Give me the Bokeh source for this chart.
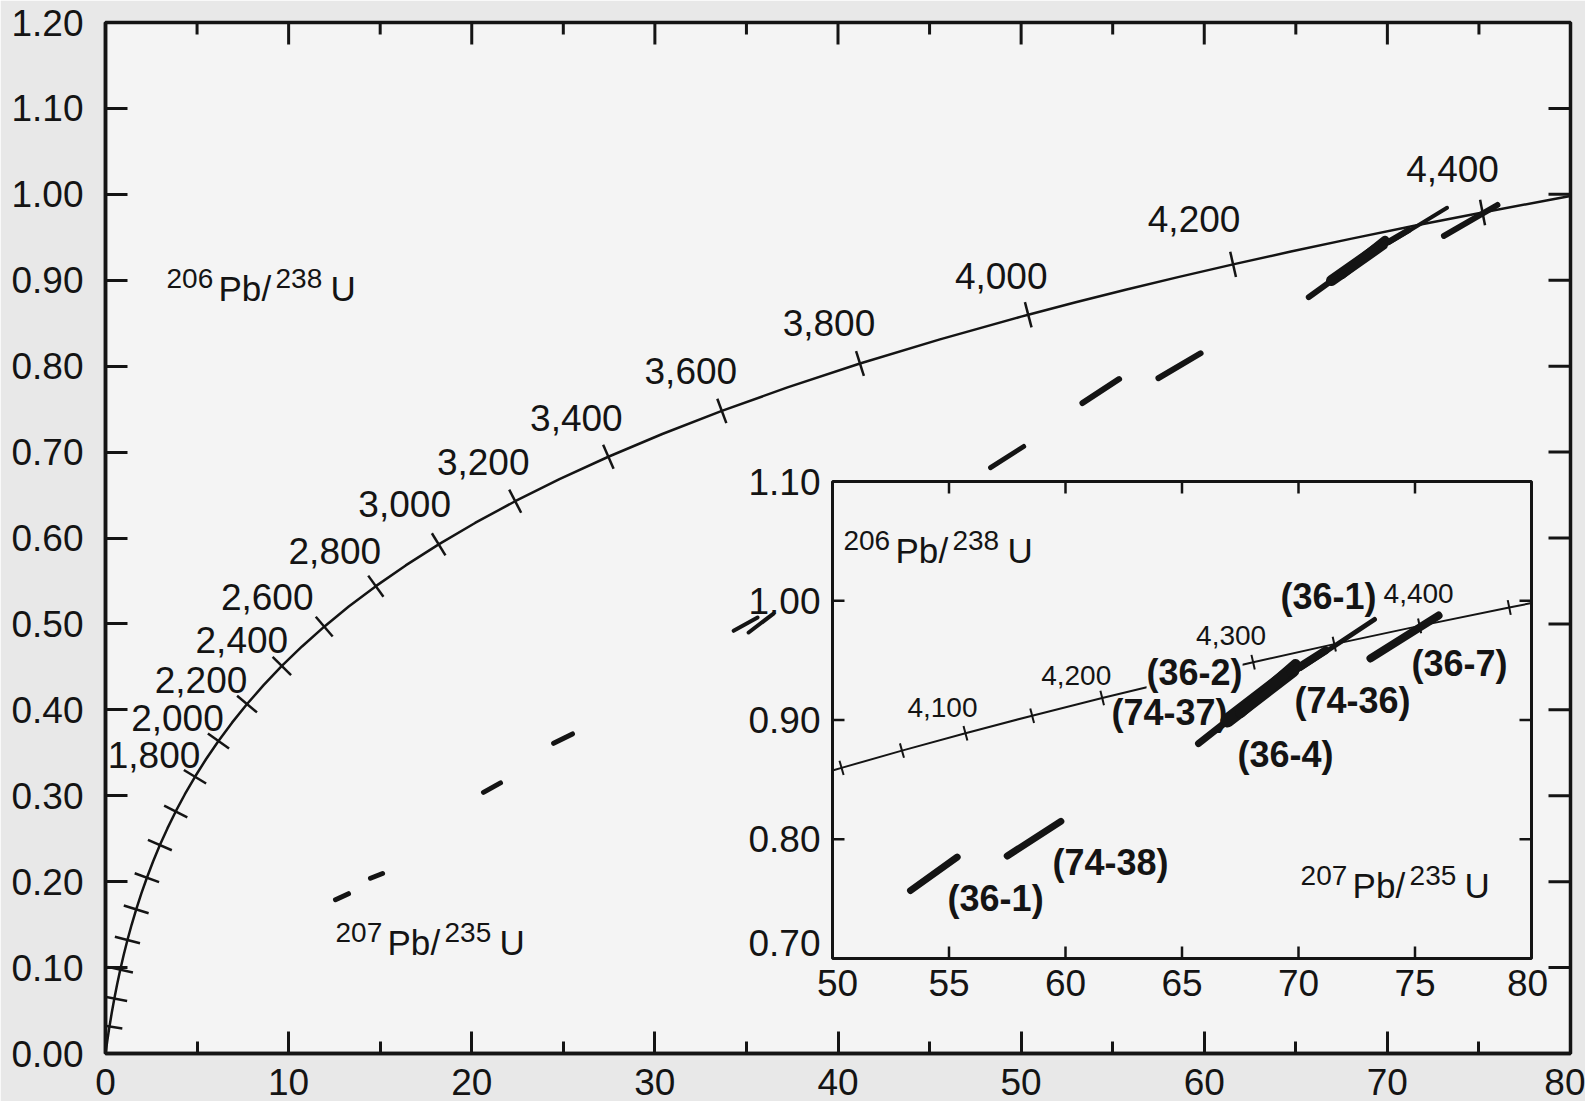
import numpy as np
from bokeh.plotting import figure
from bokeh.models import (Range1d, FixedTicker, NumeralTickFormatter, Label)
from bokeh.core.properties import value
from bokeh.embed import file_html
from bokeh.resources import INLINE

# ------------------------------------------------------------------ data
# Concordia curve (age in Ma, 207Pb/235U, 206Pb/238U)
concordia_age_ma = [0, 100, 200, 300, 400, 500, 600, 700, 800, 900, 1000,
                    1100, 1200, 1300, 1400, 1500, 1600, 1700, 1800, 1900, 2000,
                    2100, 2200, 2300, 2400, 2500, 2600, 2700, 2800, 2900, 3000,
                    3100, 3200, 3300, 3400, 3500, 3600, 3700, 3800, 3900, 3992,
                    4000, 4050, 4100, 4150, 4200, 4250, 4300, 4350, 4400, 4450, 4462]
concordia_pb207_u235 = [0.0, 0.1035, 0.2177, 0.3437, 0.4828, 0.6363, 0.8056, 0.9925,
                        1.1987, 1.4263, 1.6774, 1.9545, 2.2603, 2.5977, 2.9701, 3.3810,
                        3.8344, 4.3348, 4.8869, 5.4962, 6.1685, 6.9104, 7.7291, 8.6326,
                        9.6296, 10.730, 11.944, 13.283, 14.762, 16.393, 18.193, 20.180,
                        22.372, 24.790, 27.460, 30.405, 33.656, 37.243, 41.200, 45.568,
                        50.000, 50.388, 52.981, 55.706, 58.569, 61.575, 64.734, 68.052,
                        71.536, 75.198, 79.044, 80.000]
concordia_pb206_u238 = [0.0, 0.01563, 0.03151, 0.04764, 0.06402, 0.08065, 0.09754, 0.11470,
                        0.13213, 0.14983, 0.16780, 0.18606, 0.20460, 0.22343, 0.24256, 0.26199,
                        0.28172, 0.30175, 0.32211, 0.34277, 0.36377, 0.38509, 0.40674, 0.42873,
                        0.45107, 0.47375, 0.49679, 0.52019, 0.54396, 0.56810, 0.59261, 0.61751,
                        0.64280, 0.66848, 0.69456, 0.72106, 0.74796, 0.77529, 0.80304, 0.83123,
                        0.85764, 0.85986, 0.87434, 0.88893, 0.90364, 0.91846, 0.93340, 0.94846,
                        0.96363, 0.97892, 0.99433, 0.99807]

main_tick_ages = [200, 400, 600, 800, 1000, 1200, 1400, 1600, 1800, 2000, 2200, 2400,
                  2600, 2800, 3000, 3200, 3400, 3600, 3800, 4000, 4200, 4400]
main_label_ages = [1800, 2000, 2200, 2400, 2600, 2800, 3000, 3200, 3400, 3600,
                   3800, 4000, 4200, 4400]
main_label_text = ["1,800", "2,000", "2,200", "2,400", "2,600", "2,800", "3,000",
                   "3,200", "3,400", "3,600", "3,800", "4,000", "4,200", "4,400"]
inset_tick_ages = [4000, 4050, 4100, 4150, 4200, 4250, 4300, 4350, 4400, 4450]
inset_label_ages = [4100, 4200, 4300, 4400]
inset_label_text = ["4,100", "4,200", "4,300", "4,400"]

# Zircon analyses: elongated error ellipses, long axis from (x0, y0) to (x1, y1)
analysis_name = ["", "", "", "", "", "", "", "36-1", "74-38", "36-4", "74-37",
                 "36-2", "74-36", "36-1", "36-7"]
ell_x0 = [12.56, 14.47, 20.64, 24.47, 34.30, 35.12, 48.33, 53.35, 57.50, 65.71,
          66.95, 67.51, 69.66, 70.09, 73.09]
ell_y0 = [0.179, 0.204, 0.304, 0.361, 0.492, 0.490, 0.682, 0.757, 0.786, 0.8803,
          0.8996, 0.9063, 0.9398, 0.9432, 0.9516]
ell_x1 = [13.27, 15.13, 21.57, 25.50, 35.61, 36.48, 50.14, 55.35, 59.80, 69.96,
          69.74, 69.87, 71.16, 73.26, 76.01]
ell_y1 = [0.186, 0.2095, 0.315, 0.372, 0.5075, 0.512, 0.7065, 0.785, 0.815, 0.9457,
          0.9415, 0.9465, 0.9583, 0.9843, 0.9876]

# Sample tags in the inset
tag_text = ["(36-1)", "(74-38)", "(36-2)", "(74-37)", "(36-4)", "(74-36)", "(36-1)", "(36-7)"]

# Axes
x_major_ticks = [0, 10, 20, 30, 40, 50, 60, 70, 80]
x_minor_ticks = [5, 15, 25, 35, 45, 55, 65, 75]
y_major_ticks = [0.0, 0.1, 0.2, 0.3, 0.4, 0.5, 0.6, 0.7, 0.8, 0.9, 1.0, 1.1, 1.2]
inset_x_ticks = [50, 55, 60, 65, 70, 75, 80]
inset_x_labels = ["50", "55", "60", "65", "70", "75", "80"]
inset_y_ticks = [0.70, 0.80, 0.90, 1.00, 1.10]
inset_y_labels = ["0.70", "0.80", "0.90", "1.00", "1.10"]

# ------------------------------------------------------------------ layout / style
FONT = "Liberation Sans"
INK = "#141414"
BG = "#f4f4f4"
BORDER = "#e8e8e8"
W, H = 1585, 1101
FL, FR, FT, FB = 105, 15, 22, 48
FW, FH = W - FL - FR, H - FT - FB
X0, X1, Y0, Y1 = 0, 80, 0.0, 1.2
IX0, IX1, IY0, IY1 = 50, 80, 0.70, 1.10
IL, IR, IB, IT = 727, 1426, 95, 572      # inset box, px from main frame left / bottom

main_ell_width = [5, 5, 5, 5, 4, 4, 5, 6, 6, 6, 11, 9, 6, 4, 6]
inset_widths = [7, 7, 7, 14, 11, 8, 5, 8]
# label offsets (px) of text centres from their curve tick
main_lbl_dx = [-41, -41, -46, -40, -57, -41, -34, -32, -32, -31, -31, -27, -39, -30]
main_lbl_dy = [-22, -23, -24, -26, -30, -35, -40, -39, -39, -40, -41, -39, -45, -43]
inset_lbl_dx = [-23, -26, -22, -1]
inset_lbl_dy = [-26, -22, -27, -32]
tag_x = [57.00, 61.93, 65.54, 64.46, 69.44, 72.32, 71.29, 76.91]
tag_y = [0.7503, 0.7805, 0.9398, 0.9063, 0.8711, 0.9164, 1.0036, 0.9474]
tag_bg = [False, False, True, False, False, False, False, False]
inset_xlbl_dx = [5, 0, 0, 0, 0, 0, -4]
inset_ylbl_dy = [-16, 0, 0, 0, 0]

p = figure(width=W, height=H, x_range=Range1d(X0, X1), y_range=Range1d(Y0, Y1),
           output_backend="svg", toolbar_location=None, tools="",
           min_border_left=FL, min_border_right=FR, min_border_top=FT, min_border_bottom=FB,
           background_fill_color=BG, border_fill_color=BORDER,
           outline_line_color=INK, outline_line_width=3.5)
p.grid.visible = False

# inset ranges mapped onto the main frame
ixs = (IX1 - IX0) / (IR - IL)
iys = (IY1 - IY0) / (IT - IB)
p.extra_x_ranges = {"ix": Range1d(IX0 - IL * ixs, IX1 + (FW - IR) * ixs)}
p.extra_y_ranges = {"iy": Range1d(IY0 - IB * iys, IY1 + (FH - IT) * iys)}
INS = dict(x_range_name="ix", y_range_name="iy")


def style_axis(ax, ticks, minor, standoff):
    ax.ticker = FixedTicker(ticks=ticks, minor_ticks=minor)
    ax.axis_line_color = INK
    ax.axis_line_width = 3.5
    ax.major_tick_line_color = INK
    ax.minor_tick_line_color = INK
    ax.major_tick_line_width = 3
    ax.minor_tick_line_width = 3
    ax.major_tick_in, ax.major_tick_out = 22, 0
    ax.minor_tick_in, ax.minor_tick_out = 12, 0
    ax.major_label_text_font = FONT
    ax.major_label_text_font_size = "37px"
    ax.major_label_text_color = INK
    ax.major_label_standoff = standoff


style_axis(p.yaxis[0], y_major_ticks, [], 22)
p.yaxis[0].formatter = NumeralTickFormatter(format="0.00")
style_axis(p.xaxis[0], x_major_ticks, x_minor_ticks, 15)

# inward ticks on the top and right frame edges
top_major = x_major_ticks[1:-1]
right_major = y_major_ticks[1:-1]
p.ray(top_major, [Y1] * len(top_major), length=22, length_units="screen",
      angle=-np.pi / 2, line_color=INK, line_width=3)
p.ray(x_minor_ticks, [Y1] * len(x_minor_ticks), length=12, length_units="screen",
      angle=-np.pi / 2, line_color=INK, line_width=3)
p.ray([X1] * len(right_major), right_major, length=22, length_units="screen",
      angle=np.pi, line_color=INK, line_width=3)

cx = np.array(concordia_pb207_u235)
cy = np.array(concordia_pb206_u238)
ages = list(concordia_age_ma)


def tick_angles(sel, sx, sy):
    out = []
    for a in sel:
        i = ages.index(a)
        j0, j1 = max(i - 1, 0), min(i + 1, len(ages) - 1)
        out.append(float(np.arctan2((cy[j1] - cy[j0]) * sy, (cx[j1] - cx[j0]) * sx) + np.pi / 2))
    return out


def pick(arr, sel):
    return [float(arr[ages.index(a)]) for a in sel]


# ---------------- inset frame
p.quad(left=[IX0], right=[IX1], bottom=[IY0], top=[IY1], fill_color=BG,
       line_color=INK, line_width=3, **INS)

# ---------------- main plot
p.line(cx, cy, line_color=INK, line_width=2.5)
msx, msy = FW / (X1 - X0), FH / (Y1 - Y0)
p.scatter(pick(cx, main_tick_ages), pick(cy, main_tick_ages), marker="dash", size=26,
          angle=tick_angles(main_tick_ages, msx, msy), line_color=INK, line_width=2.5)
p.segment(ell_x0, ell_y0, ell_x1, ell_y1, line_width=main_ell_width, line_color=INK,
          line_cap="round")
p.text(pick(cx, main_label_ages), pick(cy, main_label_ages), text=main_label_text,
       x_offset=main_lbl_dx, y_offset=main_lbl_dy, text_align="center",
       text_baseline="middle", text_font=value(FONT), text_font_size="37px", text_color=INK)


def isotope_label(x, y, sup1, sup2, rng):
    # (text, dx, dy of the text centre from the anchor, font size)
    pieces = [(sup1, -52, -22, "28px"), ("Pb", 0, -12, "35px"), ("/", 43, -12, "35px"),
              (sup2, 57, -22, "28px"), ("U", 112, -12, "35px")]
    for txt, dx, dy, fs in pieces:
        p.text([x], [y], text=[txt], x_offset=dx, y_offset=dy, text_align="left",
               text_baseline="middle", text_font=value(FONT), text_font_size=fs,
               text_color=INK, **rng)


isotope_label(6.17, 0.8764, "206", "238", {})
isotope_label(15.40, 0.1152, "207", "235", {})

# ---------------- inset
ins_idx = [i for i in range(len(concordia_age_ma)) if concordia_pb207_u235[i] >= IX0]
p.line(cx[ins_idx], cy[ins_idx], line_color=INK, line_width=2, **INS)
isx, isy = (IR - IL) / (IX1 - IX0), (IT - IB) / (IY1 - IY0)
p.scatter(pick(cx, inset_tick_ages), pick(cy, inset_tick_ages), marker="dash", size=15,
          angle=tick_angles(inset_tick_ages, isx, isy), line_color=INK, line_width=2, **INS)
sel = [i for i in range(len(ell_x0)) if ell_x0[i] >= IX0 and ell_y0[i] >= IY0]
p.segment([ell_x0[i] for i in sel], [ell_y0[i] for i in sel],
          [ell_x1[i] for i in sel], [ell_y1[i] for i in sel],
          line_width=inset_widths, line_color=INK, line_cap="round", **INS)
p.text(pick(cx, inset_label_ages), pick(cy, inset_label_ages), text=inset_label_text,
       x_offset=inset_lbl_dx, y_offset=inset_lbl_dy, text_align="center",
       text_baseline="middle", text_font=value(FONT), text_font_size="28px",
       text_color=INK, **INS)

# inset ticks (inward)
inner_x = inset_x_ticks[1:-1]
inner_y = inset_y_ticks[1:-1]
p.ray(inner_x, [IY0] * len(inner_x), length=12, length_units="screen", angle=np.pi / 2,
      line_color=INK, line_width=2.5, **INS)
p.ray(inner_x, [IY1] * len(inner_x), length=12, length_units="screen", angle=-np.pi / 2,
      line_color=INK, line_width=2.5, **INS)
p.ray([IX0] * len(inner_y), inner_y, length=12, length_units="screen", angle=0,
      line_color=INK, line_width=2.5, **INS)
p.ray([IX1] * len(inner_y), inner_y, length=12, length_units="screen", angle=np.pi,
      line_color=INK, line_width=2.5, **INS)
p.text(inset_x_ticks, [IY0] * len(inset_x_ticks), text=inset_x_labels,
       x_offset=inset_xlbl_dx, y_offset=24, text_align="center", text_baseline="middle",
       text_font=value(FONT), text_font_size="37px", text_color=INK, **INS)
p.text([IX0] * len(inset_y_ticks), inset_y_ticks, text=inset_y_labels,
       x_offset=-12, y_offset=inset_ylbl_dy, text_align="right", text_baseline="middle",
       text_font=value(FONT), text_font_size="37px", text_color=INK, **INS)

isotope_label(52.70, 1.0321, "206", "238", INS)
isotope_label(72.32, 0.7512, "207", "235", INS)

# sample tags
plain = [i for i in range(len(tag_text)) if not tag_bg[i]]
p.text([tag_x[i] for i in plain], [tag_y[i] for i in plain], text=[tag_text[i] for i in plain],
       text_align="center", text_baseline="middle", text_font=value(FONT),
       text_font_size="36px", text_font_style="bold", text_color=INK, **INS)
for i in range(len(tag_text)):
    if tag_bg[i]:
        p.add_layout(Label(x=tag_x[i], y=tag_y[i], text=tag_text[i], text_align="center",
                           text_baseline="middle", text_font=FONT, text_font_size="36px",
                           text_font_style="bold", text_color=INK, background_fill_color=BG,
                           **INS))

open("out.html", "w").write(file_html(p, INLINE))
